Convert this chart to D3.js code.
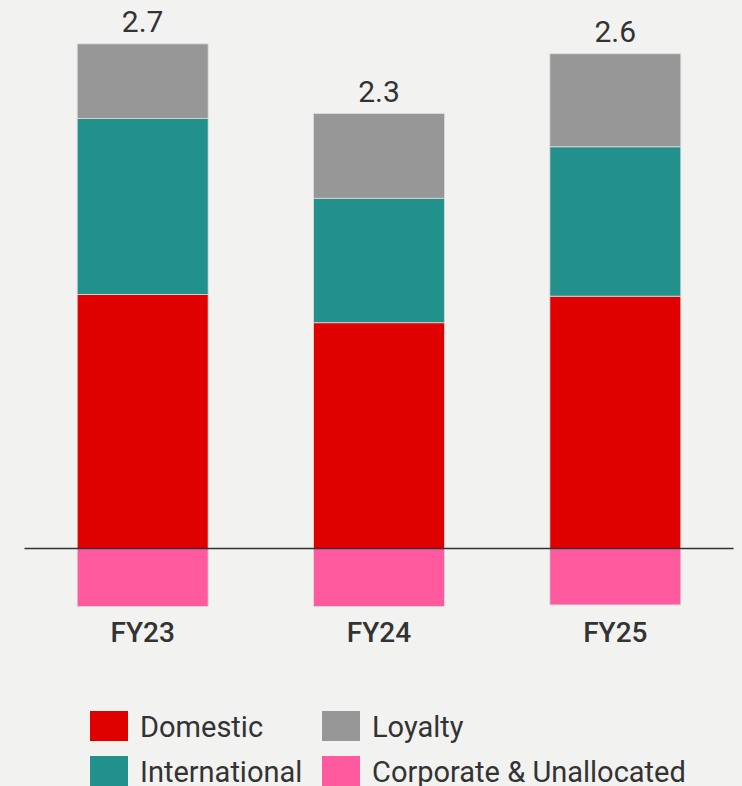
<!DOCTYPE html>
<html>
<head>
<meta charset="utf-8">
<script src="https://cdn.jsdelivr.net/npm/d3@7"></script>
<style>
  html, body { margin: 0; padding: 0; background: #f2f2f0; }
  svg { display: block; font-family: Roboto, "Liberation Sans", sans-serif; }
</style>
</head>
<body>
<div class="canvas"></div>
<script>
'use strict';
// values (A$ bn)
var years = ['FY23', 'FY24', 'FY25'];
var domestic = [1.53, 1.36, 1.52];
var international = [1.06, 0.75, 0.90];
var loyalty = [0.45, 0.51, 0.56];
var corporate = [-0.35, -0.35, -0.34];

var seriesNames = ['Domestic', 'International', 'Loyalty', 'Corporate & Unallocated'];
var seriesColors = ['#e00000', '#23918b', '#979797', '#ff5a9e'];

var W = 742, H = 786;

var rows = years.map((y, i) => ({
    year: y,
    Domestic: domestic[i],
    International: international[i],
    Loyalty: loyalty[i],
    'Corporate & Unallocated': corporate[i]
}));

var stack = d3.stack()
    .keys(seriesNames)
    .offset(d3.stackOffsetDiverging);
var layers = stack(rows);

var xScale = d3.scaleBand()
    .domain(years)
    .range([24.5, 733.5])
    .paddingInner(0.446)
    .paddingOuter(0.223);

var yScale = d3.scaleLinear()
    .domain([-0.4, 3.0])
    .range([614.9, 50.5]);

var canvas = d3.select('.canvas')
    .append('svg')
    .attr('width', W)
    .attr('height', H);

canvas.append('rect')
    .attr('width', W).attr('height', H)
    .attr('fill', '#f2f2f0');

var g = canvas.append('g');

layers.forEach((layer, li) => {
    g.selectAll(null)
        .data(layer)
        .enter()
        .append('rect')
        .attr('x', d => xScale(d.data.year))
        .attr('width', xScale.bandwidth())
        .attr('y', d => yScale(Math.max(d[0], d[1])))
        .attr('height', d => Math.abs(yScale(d[0]) - yScale(d[1])))
        .attr('fill', seriesColors[li])
        .attr('stroke', '#dcdcdc')
        .attr('stroke-width', 0.8);
});

// zero line
g.append('line')
    .attr('x1', xScale.range()[0])
    .attr('x2', xScale.range()[1])
    .attr('y1', yScale(0))
    .attr('y2', yScale(0))
    .attr('stroke', '#333')
    .attr('stroke-width', 1.6);

// totals on top
var fmt = d3.format('.1f');
rows.forEach((r, i) => {
    var top = domestic[i] + international[i] + loyalty[i];
    var net = top + corporate[i];
    g.append('text')
        .attr('x', xScale(r.year) + xScale.bandwidth() / 2)
        .attr('y', yScale(top) - 12)
        .attr('text-anchor', 'middle')
        .attr('font-size', 30)
        .attr('fill', '#333')
        .text(fmt(net));
});

// category axis labels
var xAxis = d3.axisBottom(xScale).tickSize(0).tickPadding(0);
var axisG = g.append('g')
    .attr('transform', 'translate(0,' + 642 + ')')
    .call(xAxis);
axisG.select('.domain').remove();
axisG.selectAll('text')
    .attr('dy', 0)
    .attr('font-size', 28)
    .attr('font-weight', 500)
    .attr('font-family', 'Roboto, "Liberation Sans", sans-serif')
    .attr('fill', '#333');

// legend
var legendPos = [[90, 711], [90, 756], [322, 711], [322, 756]];
var legend = canvas.append('g');
seriesNames.forEach((name, i) => {
    var p = legendPos[i];
    legend.append('rect')
        .attr('x', p[0]).attr('y', p[1])
        .attr('width', 38).attr('height', 30)
        .attr('fill', seriesColors[i]);
    legend.append('text')
        .attr('x', p[0] + 50)
        .attr('y', p[1] + 26)
        .attr('font-size', 29)
        .attr('fill', '#333')
        .text(name);
});
</script>
</body>
</html>
